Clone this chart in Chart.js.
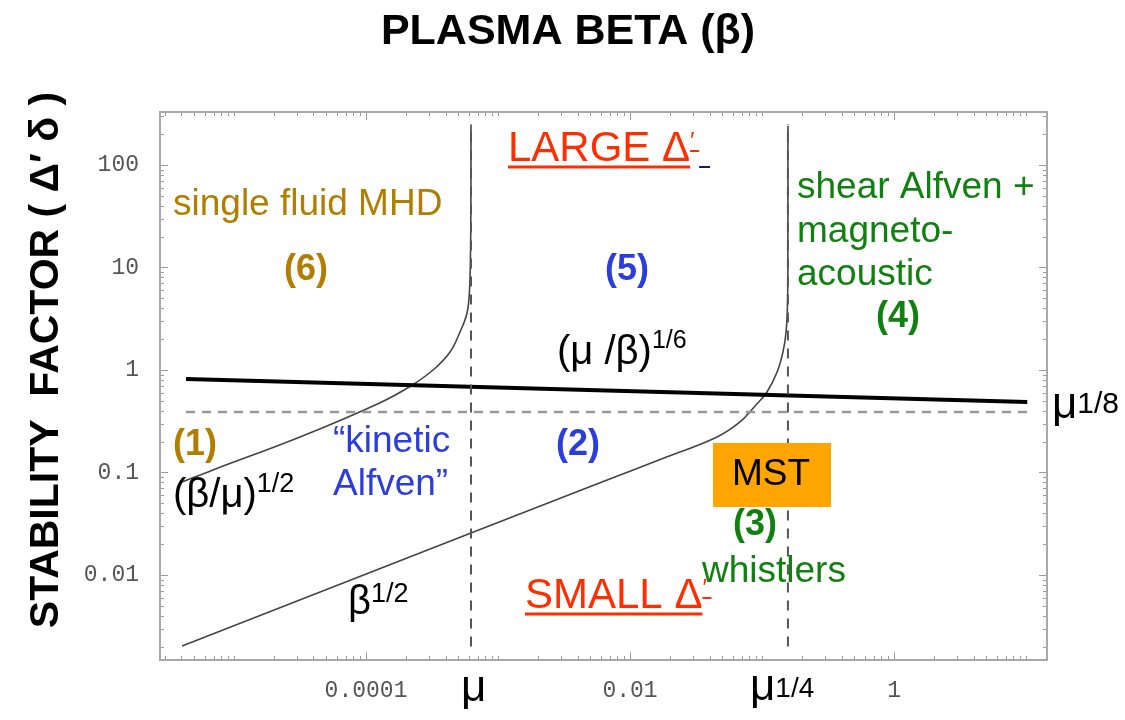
<!DOCTYPE html>
<html>
<head>
<meta charset="utf-8">
<script src="https://cdn.jsdelivr.net/npm/chart.js@4.4.0/dist/chart.umd.min.js"></script>
<style>
  html, body { margin: 0; padding: 0; background: #fff; }
  #wrap { width: 1125px; height: 720px; }
</style>
</head>
<body>
<div id="wrap"><canvas id="betaChart" width="1125" height="720"></canvas></div>
<script>
// Tick labels
const xTicks = [1e-4, 1e-2, 1];
const xTickLabels = ['0.0001', '0.01', '1'];
const yTicks = [0.01, 0.1, 1, 10, 100];
const yTickLabels = ['0.01', '0.1', '1', '10', '100'];

// Special beta values (mu, mu^1/4) and the mu^1/8 level
const muBeta = [6.24e-4, 6.24e-4];
const muQuarterBeta = [0.157, 0.157];
const boundaryFactor = [0.0020, 251];

// mu^1/8 dashed level and the thick (mu/beta)^1/6 line
const levelBeta = [4.33e-6, 10.2];
const levelFactor = [0.389, 0.389];
const slopeBeta = [4.33e-6, 10.2];
const slopeFactor = [0.817, 0.487];

// (beta/mu)^1/2 branch, turning up at beta = mu
const kawBeta = [4.04e-6, 6.93e-6, 3.16e-5, 1.28e-4, 2.15e-4, 3.22e-4, 4.33e-4, 5.15e-4, 5.82e-4, 6.08e-4, 6.19e-4, 6.23e-4, 6.24e-4];
const kawFactor = [0.0807, 0.106, 0.222, 0.480, 0.690, 1.00, 1.50, 2.35, 3.60, 6.03, 14.8, 45.6, 245];

// beta^1/2 branch, turning up at beta = mu^1/4
const whistlerBeta = [4.04e-6, 6.24e-4, 6.70e-3, 0.0191, 0.0456, 0.0681, 0.0885, 0.109, 0.130, 0.144, 0.152, 0.156, 0.1568, 0.157];
const whistlerFactor = [0.00203, 0.0257, 0.0845, 0.142, 0.222, 0.311, 0.446, 0.610, 0.955, 1.50, 2.35, 4.82, 14.8, 240];

const SANS = "'Liberation Sans', Arial, sans-serif";
const GOLD = '#B07E00';
const BLUE = '#2B3DDB';
const GREEN = '#118011';
const RED = '#FF2E00';

const pts = (xs, ys) => xs.map((x, i) => ({ x: x, y: ys[i] }));

function supText(ctx, base, sup, x, y, baseSize, supSize, rise, color) {
  ctx.fillStyle = color;
  ctx.textAlign = 'left';
  ctx.textBaseline = 'alphabetic';
  ctx.font = baseSize + 'px ' + SANS;
  ctx.fillText(base, x, y);
  const w = ctx.measureText(base).width;
  ctx.font = supSize + 'px ' + SANS;
  ctx.fillText(sup, x + w, y - rise);
}

function deltaLabel(ctx, word, x, y, size) {
  ctx.fillStyle = RED;
  ctx.strokeStyle = RED;
  ctx.textAlign = 'left';
  ctx.textBaseline = 'alphabetic';
  ctx.font = size + 'px ' + SANS;
  const txt = word + ' \u0394';
  ctx.fillText(txt, x, y);
  const w = ctx.measureText(txt).width;
  ctx.lineWidth = 3;
  ctx.beginPath();
  ctx.moveTo(x, y + 6);
  ctx.lineTo(x + w, y + 6);
  ctx.stroke();
  // prime with its own little underline
  ctx.font = '24px ' + SANS;
  ctx.fillText('\u2032', x + w, y - 12);
  ctx.lineWidth = 2;
  ctx.beginPath();
  ctx.moveTo(x + w, y - 10);
  ctx.lineTo(x + w + 9, y - 10);
  ctx.stroke();
  return x + w;
}

// Frame and inward tick marks on all four sides
const framePlugin = {
  id: 'frame',
  afterDatasetsDraw(chart) {
    const { ctx, chartArea: a, scales: { x, y } } = chart;
    ctx.save();
    ctx.strokeStyle = '#9a9a9a';
    ctx.lineWidth = 1;
    for (let k = -6; k <= 1; k++) {
      for (let n = 1; n <= 9; n++) {
        const v = n * Math.pow(10, k);
        if (v < x.min || v > x.max) continue;
        const px = Math.round(x.getPixelForValue(v)) + 0.5;
        const len = xTicks.some(t => Math.abs(t - v) / t < 1e-6) ? 8 : 4;
        ctx.beginPath();
        ctx.moveTo(px, a.bottom); ctx.lineTo(px, a.bottom - len);
        ctx.moveTo(px, a.top); ctx.lineTo(px, a.top + len);
        ctx.stroke();
      }
    }
    for (let k = -3; k <= 2; k++) {
      for (let n = 1; n <= 9; n++) {
        const v = n * Math.pow(10, k);
        if (v < y.min || v > y.max) continue;
        const py = Math.round(y.getPixelForValue(v)) + 0.5;
        const len = n === 1 ? 8 : 4;
        ctx.beginPath();
        ctx.moveTo(a.left, py); ctx.lineTo(a.left + len, py);
        ctx.moveTo(a.right, py); ctx.lineTo(a.right - len, py);
        ctx.stroke();
      }
    }
    ctx.strokeStyle = '#a8a8a8';
    ctx.lineWidth = 2;
    ctx.strokeRect(a.left, a.top, a.right - a.left, a.bottom - a.top);
    ctx.restore();
  }
};

// Titles and region labels
const labelPlugin = {
  id: 'labels',
  afterDraw(chart) {
    const ctx = chart.ctx;
    ctx.save();

    ctx.fillStyle = '#000';
    ctx.textAlign = 'center';
    ctx.textBaseline = 'alphabetic';
    ctx.font = 'bold 43px ' + SANS;
    ctx.fillText('PLASMA BETA (\u03b2)', 568, 44);

    ctx.save();
    ctx.translate(58, 360);
    ctx.rotate(-Math.PI / 2);
    ctx.font = 'bold 41px ' + SANS;
    ctx.fillText('STABILITY  FACTOR ( \u0394\u2032 \u03b4 )', 0, 0);
    ctx.restore();

    // x axis special values
    ctx.fillStyle = '#000';
    ctx.textAlign = 'left';
    ctx.font = '44px ' + SANS;
    ctx.fillText('\u03bc', 461, 701);
    supText(ctx, '\u03bc', '1/4', 750, 700, 44, 28, 3, '#000');
    supText(ctx, '\u03bc', '1/8', 1052, 418, 44, 30, 5, '#000');

    // regions
    ctx.textAlign = 'left';
    ctx.font = '37px ' + SANS;
    ctx.fillStyle = GOLD;
    ctx.fillText('single fluid MHD', 173, 215);
    ctx.fillStyle = GREEN;
    ctx.fillText('shear Alfven +', 797, 198);
    ctx.fillText('magneto-', 797, 242);
    ctx.fillText('acoustic', 797, 285);
    ctx.fillText('whistlers', 702, 582);
    ctx.fillStyle = BLUE;
    ctx.fillText('\u201ckinetic', 333, 452);
    ctx.fillText('Alfven\u201d', 333, 495);

    ctx.textAlign = 'center';
    ctx.textBaseline = 'middle';
    ctx.font = 'bold 36px ' + SANS;
    ctx.fillStyle = GOLD;
    ctx.fillText('(6)', 306, 270);
    ctx.fillText('(1)', 195, 445);
    ctx.fillStyle = BLUE;
    ctx.fillText('(5)', 627, 270);
    ctx.fillText('(2)', 578, 445);
    ctx.fillStyle = GREEN;
    ctx.fillText('(4)', 898, 317);
    ctx.fillText('(3)', 755, 525);

    // scalings
    supText(ctx, '(\u03b2/\u03bc)', '1/2', 173, 507, 40, 27, 15, '#000');
    supText(ctx, '(\u03bc /\u03b2)', '1/6', 557, 364, 40, 25, 16, '#000');
    supText(ctx, '\u03b2', '1/2', 348, 614, 40, 27, 12, '#000');

    // large / small delta-prime
    const endLarge = deltaLabel(ctx, 'LARGE', 508, 161, 42);
    ctx.strokeStyle = '#1a1a60';
    ctx.lineWidth = 2;
    ctx.beginPath();
    ctx.moveTo(endLarge + 9, 167);
    ctx.lineTo(endLarge + 20, 167);
    ctx.stroke();
    deltaLabel(ctx, 'SMALL', 525, 608, 42);

    // MST marker
    ctx.fillStyle = '#FFA500';
    ctx.fillRect(713, 443, 118, 64);
    ctx.fillStyle = '#000';
    ctx.textAlign = 'center';
    ctx.textBaseline = 'middle';
    ctx.font = '37px ' + SANS;
    ctx.fillText('MST', 771, 475);

    ctx.restore();
  }
};

const ctx = document.getElementById('betaChart');
new Chart(ctx, {
  type: 'line',
  data: {
    datasets: [
      { data: pts(levelBeta, levelFactor), borderColor: '#999', borderWidth: 2.5, borderDash: [9, 7] },
      { data: pts(muBeta, boundaryFactor), borderColor: '#555', borderWidth: 2, borderDash: [10, 8] },
      { data: pts(muQuarterBeta, boundaryFactor), borderColor: '#555', borderWidth: 2, borderDash: [10, 8] },
      { data: pts(slopeBeta, slopeFactor), borderColor: '#000', borderWidth: 4 },
      { data: pts(kawBeta, kawFactor), borderColor: '#444', borderWidth: 1.6, tension: 0.4 },
      { data: pts(whistlerBeta, whistlerFactor), borderColor: '#444', borderWidth: 1.6, tension: 0.4 }
    ]
  },
  options: {
    responsive: false,
    animation: false,
    devicePixelRatio: 1,
    layout: { padding: { top: 112, right: 78, bottom: 0, left: 0 } },
    elements: { point: { radius: 0 }, line: { tension: 0, fill: false } },
    plugins: { legend: { display: false }, tooltip: { enabled: false } },
    scales: {
      x: {
        type: 'logarithmic',
        min: 2.75e-6,
        max: 14.4,
        afterBuildTicks: s => { s.ticks = xTicks.map(v => ({ value: v })); },
        afterFit: s => { s.height = 60; },
        ticks: {
          autoSkip: false,
          maxRotation: 0,
          padding: 9,
          color: '#555',
          font: { family: "'Liberation Mono', monospace", size: 23 },
          callback: (v, i) => xTickLabels[i]
        },
        grid: { display: false },
        border: { display: false }
      },
      y: {
        type: 'logarithmic',
        min: 1.48e-3,
        max: 329,
        afterBuildTicks: s => { s.ticks = yTicks.map(v => ({ value: v })); },
        afterFit: s => { s.width = 160; },
        ticks: {
          autoSkip: false,
          padding: 13,
          color: '#555',
          font: { family: "'Liberation Mono', monospace", size: 23 },
          callback: (v, i) => yTickLabels[i]
        },
        grid: { display: false },
        border: { display: false }
      }
    }
  },
  plugins: [framePlugin, labelPlugin]
});
</script>
</body>
</html>
